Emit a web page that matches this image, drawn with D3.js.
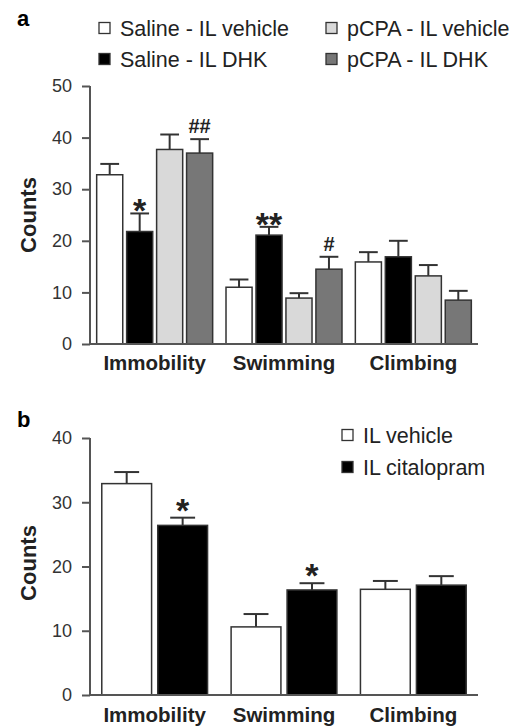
<!DOCTYPE html>
<html>
<head>
<meta charset="utf-8">
<script src="https://cdn.jsdelivr.net/npm/d3@7"></script>
<style>
  body { margin: 0; background: #fff; }
  svg { display: block; font-family: "Liberation Sans", Arial, sans-serif; }
  .tick text { fill: #333; font-size: 18px; }
</style>
</head>
<body>
<svg id="chart" width="522" height="726"></svg>
<script>
const categories = ["Immobility", "Swimming", "Climbing"];

// panel a
const seriesA = ["Saline - IL vehicle", "Saline - IL DHK", "pCPA - IL vehicle", "pCPA - IL DHK"];
const salineVehicleA = [32.8, 11.0, 15.9];
const salineDhkA = [21.8, 21.1, 16.9];
const pcpaVehicleA = [37.7, 8.9, 13.2];
const pcpaDhkA = [37.0, 14.5, 8.5];
const salineVehicleErrA = [2.1, 1.5, 1.9];
const salineDhkErrA = [3.5, 1.6, 3.1];
const pcpaVehicleErrA = [2.9, 0.95, 2.1];
const pcpaDhkErrA = [2.7, 2.4, 1.8];
const ticksA = [0, 10, 20, 30, 40, 50];
const marksA = [["Immobility", 1, "*"], ["Immobility", 3, "##"], ["Swimming", 1, "**"], ["Swimming", 3, "#"]];

// panel b
const seriesB = ["IL vehicle", "IL citalopram"];
const ilVehicleB = [32.9, 10.6, 16.45];
const ilCitalopramB = [26.4, 16.35, 17.1];
const ilVehicleErrB = [1.8, 2.0, 1.3];
const ilCitalopramErrB = [1.2, 1.05, 1.4];
const ticksB = [0, 10, 20, 30, 40];
const marksB = [["Immobility", 1, "*"], ["Swimming", 1, "*"]];

function getFill(name) {
    switch (name) {
        case "Saline - IL DHK":
        case "IL citalopram":
            return "#000";
        case "pCPA - IL vehicle":
            return "#d9d9d9";
        case "pCPA - IL DHK":
            return "#777";
        default:
            return "#fff";
    }
}

function drawPanel(svg, p) {
    const g = svg.append("g");
    const x = d3.scaleBand().domain(categories).range([90, 478]).paddingInner(0.08).paddingOuter(0.04);
    const xs = d3.scaleBand().domain(d3.range(p.series.length)).range([0, x.bandwidth()])
        .paddingInner(p.innerPad).paddingOuter(p.outerPad);
    const y = d3.scaleLinear().domain([0, d3.max(p.ticks)]).range(p.yRange);

    const rows = [];
    p.series.forEach((s, si) => {
        categories.forEach((c, ci) => {
            rows.push({cat: c, si, name: s, v: p.values[si][ci], e: p.errors[si][ci]});
        });
    });

    // error bars behind bars
    const cap = xs.bandwidth() * p.capRatio;
    const eb = g.append("g").attr("stroke", "#333").attr("stroke-width", 2);
    eb.selectAll("line.v").data(rows).enter().append("line")
        .attr("x1", d => x(d.cat) + xs(d.si) + xs.bandwidth() / 2)
        .attr("x2", d => x(d.cat) + xs(d.si) + xs.bandwidth() / 2)
        .attr("y1", d => y(d.v))
        .attr("y2", d => y(d.v + d.e));
    eb.selectAll("line.c").data(rows).enter().append("line")
        .attr("x1", d => x(d.cat) + xs(d.si) + xs.bandwidth() / 2 - cap / 2)
        .attr("x2", d => x(d.cat) + xs(d.si) + xs.bandwidth() / 2 + cap / 2)
        .attr("y1", d => y(d.v + d.e))
        .attr("y2", d => y(d.v + d.e));

    g.append("g").selectAll("rect").data(rows).enter().append("rect")
        .attr("x", d => x(d.cat) + xs(d.si))
        .attr("y", d => y(d.v))
        .attr("width", xs.bandwidth())
        .attr("height", d => y(0) - y(d.v))
        .attr("fill", d => getFill(d.name))
        .attr("stroke", "#333")
        .attr("stroke-width", 1.5);

    // axes
    const yAxis = g.append("g").attr("transform", "translate(90,0)")
        .call(d3.axisLeft(y).tickValues(p.ticks).tickSize(8).tickPadding(10).tickSizeOuter(0));
    yAxis.selectAll("line, path").attr("stroke", "#555").attr("stroke-width", 2);
    yAxis.select(".domain").attr("d", `M0,${y(0)}V${y(d3.max(p.ticks))}`);

    g.append("line")
        .attr("x1", 90).attr("x2", 478)
        .attr("y1", y(0)).attr("y2", y(0))
        .attr("stroke", "#555").attr("stroke-width", 2);

    g.append("g").selectAll("text").data(categories).enter().append("text")
        .attr("x", d => x(d) + x.bandwidth() / 2)
        .attr("y", p.catY)
        .attr("text-anchor", "middle")
        .attr("font-size", 20.5)
        .attr("font-weight", "bold")
        .attr("fill", "#222")
        .text(d => d);

    g.append("text")
        .attr("transform", `translate(36,${p.countsY}) rotate(-90)`)
        .attr("text-anchor", "middle")
        .attr("font-size", 22)
        .attr("font-weight", "bold")
        .attr("fill", "#222")
        .text("Counts");

    g.append("text")
        .attr("x", 17).attr("y", p.letterY)
        .attr("font-size", 22)
        .attr("font-weight", "bold")
        .text(p.letter);

    // significance marks
    g.append("g").selectAll("text").data(p.marks).enter().append("text")
        .attr("x", d => x(d[0]) + xs(d[1]) + xs.bandwidth() / 2)
        .attr("y", d => {
            const ci = categories.indexOf(d[0]);
            const top = y(p.values[d[1]][ci] + p.errors[d[1]][ci]);
            return d[2].startsWith("*") ? top - p.markGap + 15 : top - p.markGap;
        })
        .attr("text-anchor", "middle")
        .attr("font-size", d => d[2].startsWith("*") ? 34 : 20)
        .attr("font-weight", "bold")
        .attr("fill", "#222")
        .text(d => d[2]);

    // legend
    const leg = g.append("g").selectAll("g").data(p.series).enter().append("g")
        .attr("transform", (d, i) => `translate(${p.legendX[i]},${p.legendY[i]})`);
    leg.append("rect")
        .attr("x", 0).attr("y", -5.5)
        .attr("width", 11).attr("height", 11)
        .attr("fill", d => getFill(d))
        .attr("stroke", "#333")
        .attr("stroke-width", 1.3);
    leg.append("text")
        .attr("x", 21).attr("y", 7.5)
        .attr("font-size", 21.5)
        .attr("fill", "#222")
        .text(d => d);
}

const svg = d3.select("#chart");

drawPanel(svg, {
    letter: "a", letterY: 26,
    series: seriesA,
    values: [salineVehicleA, salineDhkA, pcpaVehicleA, pcpaDhkA],
    errors: [salineVehicleErrA, salineDhkErrA, pcpaVehicleErrA, pcpaDhkErrA],
    ticks: ticksA, yRange: [344, 86],
    innerPad: 0.13, outerPad: 0.05, capRatio: 0.72,
    catY: 370, countsY: 215,
    marks: marksA, markGap: 6,
    legendX: [99, 99, 326, 326], legendY: [28, 59, 28, 59]
});

drawPanel(svg, {
    letter: "b", letterY: 427,
    series: seriesB,
    values: [ilVehicleB, ilCitalopramB],
    errors: [ilVehicleErrB, ilCitalopramErrB],
    ticks: ticksB, yRange: [695, 438],
    innerPad: 0.11, outerPad: 0.118, capRatio: 0.5,
    catY: 722, countsY: 563,
    marks: marksB, markGap: 11,
    legendX: [342, 342], legendY: [435, 467]
});
</script>
</body>
</html>
